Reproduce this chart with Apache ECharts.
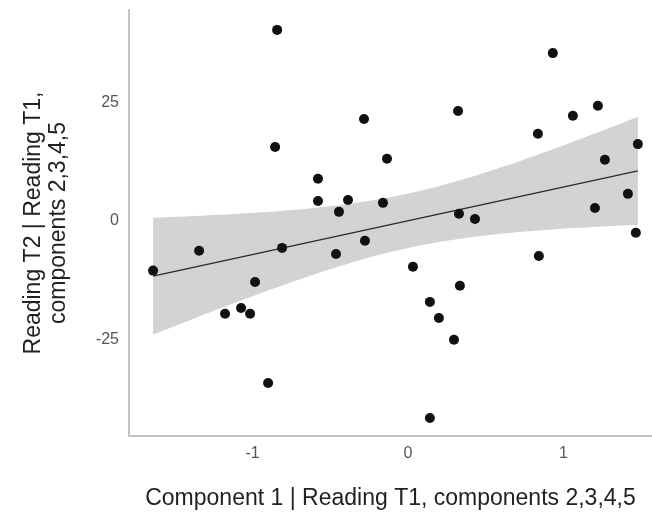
<!DOCTYPE html>
<html>
<head>
<meta charset="utf-8">
<script src="https://cdn.jsdelivr.net/npm/echarts@6/dist/echarts.min.js"></script>
<style>
  html, body { margin: 0; padding: 0; background: #fff; }
  #main { width: 652px; height: 518px; }
</style>
</head>
<body>
<div id="main"></div>
<script>
// partial regression residuals
var compX = [-1.640, -1.344, -1.177, -1.074, -1.016, -0.984, -0.900, -0.855, -0.842, -0.810,
             -0.579, -0.579, -0.463, -0.444, -0.386, -0.283, -0.277, -0.161, -0.135, 0.032,
             0.141, 0.141, 0.199, 0.296, 0.322, 0.328, 0.334, 0.431, 0.836, 0.842,
             0.932, 1.061, 1.203, 1.222, 1.267, 1.415, 1.466, 1.479]
var readY = [-10.5, -6.3, -19.6, -18.4, -19.6, -12.9, -34.2, 15.6, 40.3, -5.7,
             8.9, 4.2, -7.0, 1.9, 4.4, 21.5, -4.2, 3.8, 13.1, -9.7,
             -17.1, -41.6, -20.5, -25.1, 23.2, 1.5, -13.7, 0.4, 18.4, -7.4,
             35.4, 22.2, 2.7, 24.3, 12.9, 5.7, -2.5, 16.2]
var xTicks = [-1, 0, 1]
var yTicks = [-25, 0, 25]
var tCrit = 2.028 // t(0.975, df = n - 2)

var font = "'Liberation Sans', Arial, sans-serif"

// least squares fit + 95% band of the mean
var n = compX.length
var mx = 0, my = 0
for (var i = 0; i < n; i++) { mx += compX[i]; my += readY[i] }
mx = mx / n; my = my / n
var sxx = 0, sxy = 0
for (var i = 0; i < n; i++) {
    sxx += (compX[i] - mx) * (compX[i] - mx)
    sxy += (compX[i] - mx) * (readY[i] - my)
}
var slope = sxy / sxx
var icpt = my - slope * mx
var sse = 0
for (var i = 0; i < n; i++) {
    var r = readY[i] - (icpt + slope * compX[i])
    sse += r * r
}
var se = Math.sqrt(sse / (n - 2))
var xLo = Math.min.apply(null, compX)
var xHi = Math.max.apply(null, compX)

var upper = [], lower = []
for (var k = 0; k <= 60; k++) {
    var xv = xLo + (xHi - xLo) * k / 60
    var fit = icpt + slope * xv
    var h = tCrit * se * Math.sqrt(1 / n + (xv - mx) * (xv - mx) / sxx)
    upper.push([xv, fit + h])
    lower.push([xv, fit - h])
}
var fitLine = [[xLo, icpt + slope * xLo], [xHi, icpt + slope * xHi]]

var points = compX.map(function (x, i) { return [x, readY[i]] })

var myChart = echarts.init(document.getElementById('main'))
myChart.setOption({
    animation: false,
    grid: { left: 129, right: 0, top: 10, bottom: 82 },
    xAxis: {
        type: 'value',
        min: -1.795,
        max: 1.57,
        name: 'Component 1 | Reading T1, components 2,3,4,5',
        nameLocation: 'middle',
        nameGap: 51,
        nameTextStyle: { fontFamily: font, fontSize: 23, color: '#222' },
        axisLine: { show: true, onZero: false, lineStyle: { color: '#c4c4c4', width: 2 } },
        axisTick: { show: false },
        splitLine: { show: false },
        axisLabel: { customValues: xTicks, fontFamily: font, fontSize: 16, color: '#555', margin: 10 }
    },
    yAxis: {
        type: 'value',
        min: -45.4,
        max: 44.5,
        name: 'Reading T2 | Reading T1,\ncomponents 2,3,4,5',
        nameLocation: 'middle',
        nameGap: 58,
        nameTextStyle: { fontFamily: font, fontSize: 23, color: '#222', lineHeight: 25 },
        axisLine: { show: true, onZero: false, lineStyle: { color: '#c4c4c4', width: 2 } },
        axisTick: { show: false },
        splitLine: { show: false },
        axisLabel: { customValues: yTicks, fontFamily: font, fontSize: 16, color: '#555', margin: 10 }
    },
    series: [
        {
            type: 'custom',
            z: 1,
            silent: true,
            data: [[0, 0]],
            renderItem: function (params, api) {
                var pts = upper.map(function (p) { return api.coord(p) })
                var back = lower.slice().reverse().map(function (p) { return api.coord(p) })
                return {
                    type: 'polygon',
                    shape: { points: pts.concat(back) },
                    style: { fill: '#d3d3d5' }
                }
            }
        },
        {
            type: 'line',
            z: 2,
            data: fitLine,
            symbol: 'none',
            lineStyle: { color: '#2a2a2a', width: 1.3 }
        },
        {
            type: 'scatter',
            z: 3,
            data: points,
            symbolSize: 10,
            itemStyle: { color: '#111', opacity: 1 }
        }
    ]
})
</script>
</body>
</html>
